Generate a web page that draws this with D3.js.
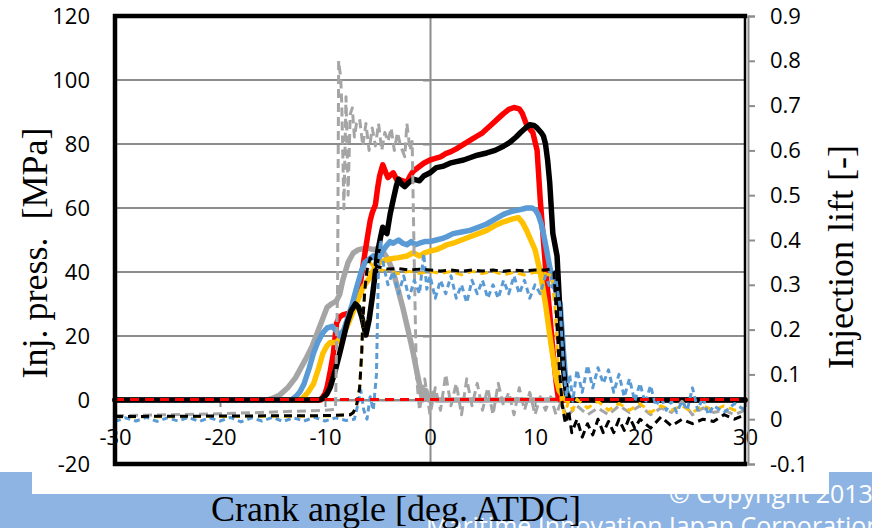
<!DOCTYPE html>
<html><head><meta charset="utf-8">
<script src="https://cdn.jsdelivr.net/npm/d3@7"></script>
<style>html,body{margin:0;padding:0;background:#fff;overflow:hidden}</style>
</head><body><svg id="c" width="872" height="528"></svg>
<script>
// ---- tick labels ----
const xTicks = [-30, -20, -10, 0, 10, 20, 30];
const leftTicks = [-20, 0, 20, 40, 60, 80, 100, 120];
const rightTicks = [-0.1, 0, 0.1, 0.2, 0.3, 0.4, 0.5, 0.6, 0.7, 0.8, 0.9];

// ---- injection pressure [MPa] (left axis), [crank angle, value] ----
const grayPressure = [[-30,0],[-15.5,0],[-15.0,0.5],[-14.3,1.6],[-13.5,4],[-12.8,7],[-12.4,9.4],[-11.8,13],[-11.2,17],[-10.5,23],[-9.8,29],[-9.4,30],[-8.9,31],[-8.6,33],[-8.3,37.5],[-7.8,43],[-7.3,46],[-6.8,47],[-6.0,47.5],[-5.4,47],[-4.8,47.5],[-4.4,46],[-4.0,44],[-3.5,40],[-3.0,34],[-2.6,29],[-2.1,22],[-1.6,14.7],[-1.2,8],[-0.7,0],[-0.4,3],[-0.1,0],[0.3,2],[0.6,0],[30,0]];
const redPressure = [[-30,0],[-10.4,0],[-10.0,2],[-9.8,4],[-9.5,9],[-9.2,14.6],[-8.9,24],[-8.6,26],[-8.3,26.6],[-7.9,27],[-7.6,27.5],[-7.2,31],[-6.7,35],[-6.4,41.6],[-6.0,50],[-5.7,56],[-5.5,58.5],[-5.2,61],[-5.0,66],[-4.8,70],[-4.5,73.5],[-4.2,71],[-4.0,69.5],[-3.7,70.5],[-3.5,71],[-3.2,69],[-3.0,69],[-2.6,68.5],[-2.2,68],[-1.9,70],[-1.6,71.5],[-1.2,72.5],[-0.6,74],[0,75],[0.5,75.5],[1.0,76],[1.5,77],[2.0,77.6],[2.5,78.5],[3.0,79.5],[3.5,80.5],[4.0,81.5],[4.5,82.5],[5.0,83.5],[5.5,85],[6.0,86.5],[6.5,88],[7.0,89.5],[7.5,90.8],[8.0,91.4],[8.5,91],[8.8,89.5],[9.2,86],[9.8,83.5],[10.2,78],[10.5,62.6],[11.0,41.6],[11.4,27],[11.7,15.6],[12.0,6],[12.2,1],[12.4,0],[30,0]];
const yellowPressure = [[-30,0],[-12.3,0],[-12.0,1],[-11.6,2.5],[-11.1,5],[-10.6,10],[-10.2,14.6],[-9.8,17],[-9.5,18],[-8.9,18],[-8.5,19.5],[-7.9,23],[-7.4,27],[-6.9,31],[-6.4,35],[-5.8,38],[-5.3,41],[-4.8,43],[-4.0,44],[-3.0,44.5],[-2.2,45],[-1.6,46],[-1.0,45],[-0.5,46],[0,46.5],[0.6,47],[1.2,47.8],[1.6,48.5],[2.2,49],[3.0,50],[3.8,51],[4.6,52],[5.4,53],[6.2,54.5],[7.0,55.7],[7.8,56.5],[8.4,57],[8.8,55.5],[9.2,53],[9.6,50],[10.0,47],[10.5,40],[11.0,30],[11.5,18],[12.0,7],[12.3,3],[12.7,1],[13.0,0],[30,0]];
const bluePressure = [[-30,0],[-13.2,0],[-12.8,1],[-12.4,2.5],[-12.0,5],[-11.5,10],[-11.1,14.6],[-10.7,18],[-10.2,21],[-9.8,22.5],[-9.3,23],[-8.9,21.5],[-8.6,20],[-8.2,22],[-7.9,25],[-7.4,30],[-7.0,35],[-6.5,40.6],[-6.2,43],[-5.8,44],[-5.4,45],[-5.0,43.5],[-4.6,46],[-4.2,48],[-3.8,49.5],[-3.5,49],[-3.0,50],[-2.6,49],[-2.2,48.5],[-1.8,49.5],[-1.4,48.5],[-1.0,49],[-0.5,49.5],[0,49.5],[0.6,50],[1.2,50.5],[1.6,51],[2.2,52],[3.0,52.5],[3.8,53],[4.6,54],[5.4,55],[6.2,56.5],[7.0,58],[7.8,59],[8.6,59.5],[9.2,60],[9.7,60],[10.0,59.5],[10.3,58],[10.6,55],[10.8,52],[11.1,47],[11.4,41.6],[11.9,35],[12.4,30],[12.7,15.6],[13.0,3],[13.3,0],[30,0]];
const blackPressure = [[-30,0],[-10.6,0],[-10.2,0.5],[-9.8,2],[-9.5,4],[-9.0,9.5],[-8.6,14.6],[-8.2,20],[-7.9,24],[-7.5,28],[-7.1,30],[-6.8,29],[-6.5,26],[-6.1,20.3],[-5.8,25],[-5.5,32],[-5.2,40],[-5.0,46],[-4.7,51],[-4.5,54],[-4.1,52],[-3.8,58],[-3.5,62.6],[-3.2,67],[-3.0,69],[-2.7,67.5],[-2.4,66.7],[-2.0,68],[-1.6,69],[-1.0,68.5],[-0.6,70],[0,71],[0.6,72.6],[1.2,73],[1.9,74],[2.5,74.5],[3.2,75],[3.8,75.7],[4.5,76.5],[5.4,77.2],[6.2,78],[7.0,79.3],[7.6,80.5],[8.2,82.2],[8.6,83.5],[9.1,85],[9.5,86],[9.9,85.8],[10.2,85],[10.6,83.5],[10.8,82.5],[11.0,80],[11.2,75],[11.4,68],[11.7,52],[12.1,45],[12.4,26],[12.7,10],[13.0,2],[13.3,0],[30,0]];

// ---- injection lift [-] (right axis), [crank angle, value] ----
const grayLift = [[-30,0.008],[-20,0.012],[-10,0.02],[-9,0.022],[-8.8,0.3],[-8.7,0.8],[-8.5,0.76],[-8.4,0.7],[-8.2,0.47],[-8.0,0.72],[-7.8,0.5],[-7.6,0.68],[-7.4,0.695],[-7.2,0.63],[-7.0,0.66],[-6.7,0.67],[-6.4,0.61],[-6.1,0.66],[-5.8,0.6],[-5.5,0.65],[-5.2,0.61],[-4.9,0.66],[-4.6,0.6],[-4.3,0.64],[-4.0,0.62],[-3.7,0.65],[-3.4,0.6],[-3.1,0.64],[-2.8,0.61],[-2.4,0.586],[-2.2,0.66],[-1.9,0.6],[-1.7,0.62],[-1.5,0.35],[-1.3,0.1],[-1.0,0.02],[-0.5,0.09],[0,0.01],[0.5,0.07],[1.0,0.02],[1.5,0.1],[2.0,0.03],[2.5,0.08],[3.0,0.01],[3.5,0.09],[4.0,0.03],[4.5,0.08],[5.0,0.02],[5.5,0.07],[6.0,0.01],[6.5,0.08],[7.0,0.03],[7.5,0.06],[8.0,0.01],[8.5,0.07],[9.0,0.02],[9.5,0.06],[10.0,0.01],[10.5,0.05],[11.0,0.02],[11.5,0.05],[12.0,0.01],[12.5,0.04],[13.0,0.005],[14,0.03],[15,0.01],[16,0.025],[17,0.01],[18,0.03],[19,0.015],[20,0.03],[21,0.01],[22,0.025],[23,0.015],[24,0.04],[25,0.01],[26,0.025],[27,0.015],[28,0.02],[29,0.01],[30,0.02]];
const yellowLift = [[-30,0.005],[-20,0.006],[-10,0.007],[-7.6,0.01],[-7.3,0.015],[-7.0,0.03],[-6.7,0.07],[-6.5,0.15],[-6.4,0.22],[-6.2,0.29],[-6.0,0.33],[-5.7,0.35],[-5.4,0.34],[-5.0,0.335],[-4,0.33],[-3,0.325],[-2,0.33],[-1,0.325],[0,0.33],[1,0.325],[2,0.33],[3,0.322],[4,0.33],[5,0.325],[6,0.33],[7,0.322],[8,0.328],[9,0.322],[10,0.328],[11,0.325],[11.6,0.32],[11.9,0.25],[12.2,0.12],[12.5,0.04],[12.8,0.01],[13.2,0.04],[13.6,0.02],[14,0.045],[15,0.025],[16,0.04],[17,0.02],[18,0.035],[19,0.02],[20,0.035],[21,0.015],[22,0.03],[23,0.02],[24,0.03],[25,0.015],[26,0.03],[27,0.02],[28,0.03],[29,0.02],[30,0.025]];
const blueLift = [[-30,-0.005],[-29,0.003],[-28,-0.004],[-27,0.004],[-26,-0.005],[-25,0.003],[-24,-0.004],[-23,0.004],[-22,-0.005],[-21,0.003],[-20,-0.004],[-19,0.004],[-18,-0.006],[-17,0.003],[-16,-0.004],[-15,0.004],[-14,-0.005],[-13,0.003],[-12,-0.004],[-11,0.004],[-10,-0.004],[-9,0.003],[-8,-0.003],[-7.2,0.0],[-6.9,0.03],[-6.6,0.065],[-6.3,0.02],[-6.0,0.0],[-5.7,0.05],[-5.4,0.02],[-5.1,0.1],[-4.9,0.35],[-4.7,0.4],[-4.4,0.34],[-4.0,0.3],[-3.5,0.33],[-3.0,0.28],[-2.5,0.32],[-2.0,0.27],[-1.5,0.31],[-1.0,0.28],[-0.6,0.37],[-0.3,0.29],[0,0.32],[0.5,0.27],[1.0,0.31],[1.5,0.28],[2.0,0.32],[2.5,0.27],[3.0,0.3],[3.5,0.26],[4.0,0.31],[4.5,0.28],[5.0,0.31],[5.5,0.27],[6.0,0.3],[6.5,0.27],[7.0,0.31],[7.5,0.28],[8.0,0.32],[8.5,0.28],[9.0,0.31],[9.5,0.27],[10.0,0.3],[10.5,0.28],[11.0,0.32],[11.5,0.29],[12.0,0.31],[12.4,0.25],[12.7,0.12],[13.0,0.05],[13.3,0.1],[13.6,0.04],[14,0.11],[14.5,0.06],[15,0.12],[15.5,0.07],[16,0.115],[16.5,0.08],[17,0.11],[17.5,0.06],[18,0.1],[18.5,0.05],[19,0.09],[19.5,0.04],[20,0.08],[20.5,0.035],[21,0.075],[21.5,0.03],[22,0.05],[22.5,0.02],[23,0.04],[23.5,0.015],[24,0.04],[24.5,0.02],[25,0.07],[25.5,0.02],[26,0.05],[26.5,0.01],[27,0.03],[28,0.015],[29,0.035],[30,0.02]];
const blackLift = [[-30,0.006],[-20,0.007],[-10,0.008],[-7.6,0.01],[-7.3,0.015],[-7.0,0.03],[-6.7,0.07],[-6.5,0.15],[-6.4,0.22],[-6.2,0.29],[-6.0,0.333],[-5.7,0.36],[-5.4,0.35],[-5.0,0.34],[-4.5,0.338],[-4,0.335],[-3,0.336],[-2,0.333],[-1,0.335],[0,0.333],[1,0.331],[2,0.333],[3,0.33],[4,0.333],[5,0.331],[6,0.333],[7,0.33],[8,0.333],[9,0.331],[10,0.333],[11,0.333],[11.5,0.335],[11.8,0.33],[12.0,0.25],[12.3,0.12],[12.6,0.03],[12.9,-0.01],[13.2,0.02],[13.5,-0.03],[14,0.0],[14.5,-0.04],[15,-0.01],[15.5,-0.035],[16,0.0],[16.5,-0.03],[17,-0.005],[17.5,-0.03],[18,0.0],[18.5,-0.025],[19,0.005],[19.5,-0.02],[20,0.0],[21,-0.02],[22,0.005],[23,-0.015],[24,0.0],[25,-0.01],[26,0.0],[27,-0.005],[28,0.01],[29,0.0],[30,0.01]];
const redLift = [[-30,0.044],[30,0.044]];

// ---- drawing ----
const svg = d3.select("#c");
const sans = "'Open Sans', 'Noto Sans', sans-serif";
const serif = "'Liberation Serif', 'DejaVu Serif', serif";

// background band and copyright
svg.append("rect").attr("x",0).attr("y",472).attr("width",872).attr("height",56).attr("fill","#8EB4E3");
svg.append("text").attr("x",669).attr("y",503).attr("fill","#fff").attr("font-family",sans).attr("font-size",25).text("\u00A9 Copyright 2013");
svg.append("text").attr("x",426).attr("y",535).attr("fill","#fff").attr("font-family",sans).attr("font-size",25).text("Maritime Innovation Japan Corporation");
svg.append("rect").attr("x",32).attr("y",0).attr("width",797).attr("height",494).attr("fill","#fff");

const x = d3.scaleLinear().domain([-30,30]).range([115,745]);
const yL = d3.scaleLinear().domain([-20,120]).range([464,16]);
const yR = d3.scaleLinear().domain([-0.1,0.9]).range([464,16]);
const gridCol = "#8C8C8C";

// gridlines
svg.append("g").selectAll("line").data(leftTicks.filter(v => v > -20 && v < 120)).join("line")
  .attr("x1",115).attr("x2",745).attr("y1",d=>yL(d)).attr("y2",d=>yL(d))
  .attr("stroke",gridCol).attr("stroke-width",2);

function styleAxis(g, showDomain) {
  g.selectAll("path.domain").attr("stroke", gridCol).attr("stroke-width", 2).style("display", showDomain ? null : "none");
  g.selectAll(".tick line").attr("stroke", gridCol).attr("stroke-width", 2);
  g.selectAll("text").attr("font-family", sans).attr("font-size", 22).attr("fill", "#000");
}

// vertical axis at crank angle 0
const gV = svg.append("g").attr("transform",`translate(${x(0)},0)`)
  .call(d3.axisLeft(yL).tickValues(leftTicks).tickSize(7).tickFormat(""));
styleAxis(gV, true);

// x axis on pressure 0
const fmt = v => (v < 0 ? "-" : "") + Math.abs(v);
const gX = svg.append("g").attr("transform",`translate(0,${yL(0)})`)
  .call(d3.axisBottom(x).tickValues(xTicks).tickSize(7).tickPadding(22).tickFormat(fmt));
styleAxis(gX, true);

// left labels
const gL = svg.append("g").attr("transform","translate(115,0)")
  .call(d3.axisLeft(yL).tickValues(leftTicks).tickSize(0).tickPadding(25).tickFormat(fmt));
styleAxis(gL, false);

// right axis
const fmtR = v => v === 0 ? "0" : (v < 0 ? "-" : "") + Math.abs(v).toFixed(1);
const gR = svg.append("g").attr("transform","translate(748,0)")
  .call(d3.axisRight(yR).tickValues(rightTicks).tickSize(7).tickPadding(15).tickFormat(fmtR));
styleAxis(gR, true);

// series
const lineL = d3.line().x(d=>x(d[0])).y(d=>yL(d[1]));
const lineR = d3.line().x(d=>x(d[0])).y(d=>yR(d[1]));
const solids = [
  [grayPressure, "#A5A5A5"],
  [redPressure, "#FF0000"],
  [yellowPressure, "#FFC000"],
  [bluePressure, "#5B9BD5"],
  [blackPressure, "#000000"]
];
solids.forEach(([data,col]) => {
  svg.append("path").attr("d", lineL(data)).attr("fill","none").attr("stroke",col)
    .attr("stroke-width",5.5).attr("stroke-linejoin","round").attr("stroke-linecap","round");
});
const dashed = [
  [grayLift, "#A5A5A5", "9,5"],
  [yellowLift, "#FFC000", "8,5"],
  [blueLift, "#5B9BD5", "6,4"],
  [blackLift, "#000000", "8,5"],
  [redLift, "#FF0000", "9,6"]
];
dashed.forEach(([data,col,dash]) => {
  svg.append("path").attr("d", lineR(data)).attr("fill","none").attr("stroke",col)
    .attr("stroke-width",3).attr("stroke-dasharray",dash).attr("stroke-linejoin","round");
});

// plot border
svg.append("path").attr("d", `M745,16 L115,16 L115,464 L745,464`).attr("fill","none")
  .attr("stroke","#000").attr("stroke-width",4.5).attr("stroke-linecap","square");
svg.append("line").attr("x1",745).attr("x2",745).attr("y1",16).attr("y2",464).attr("stroke","#000").attr("stroke-width",2.5);

// titles
svg.append("text").attr("transform","translate(47,253) rotate(-90)").attr("text-anchor","middle")
  .attr("font-family",serif).attr("font-size",36).style("white-space","pre").text("Inj. press.  [MPa]");
svg.append("text").attr("transform","translate(853,257) rotate(-90)").attr("text-anchor","middle")
  .attr("font-family",serif).attr("font-size",36).text("Injection lift [-]");
svg.append("text").attr("x",396).attr("y",521).attr("text-anchor","middle")
  .attr("font-family",serif).attr("font-size",36).text("Crank angle [deg. ATDC]");
</script></body></html>
